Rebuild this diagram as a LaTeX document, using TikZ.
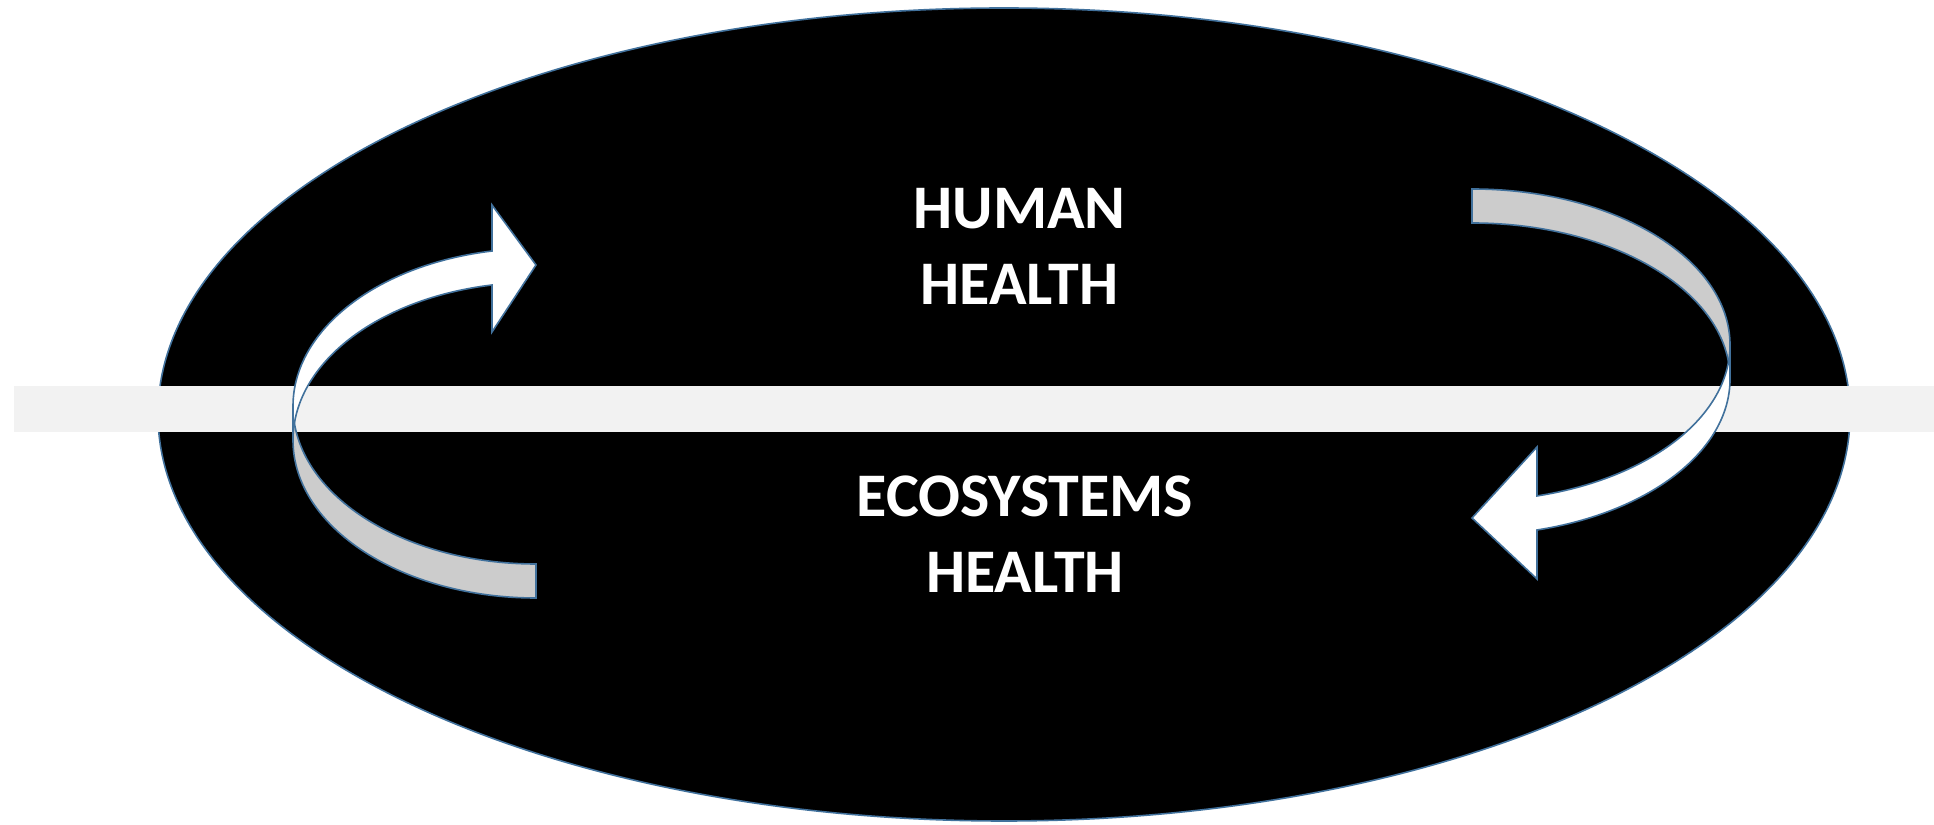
\documentclass[tikz,border=0pt]{standalone}
\usepackage{fontspec}
\setmainfont{Carlito}
\definecolor{outl}{HTML}{41719C}
\definecolor{bandc}{HTML}{F2F2F2}
\definecolor{backc}{HTML}{CCCCCC}
\begin{document}
\begin{tikzpicture}[x=1pt,y=1pt,
  outline/.style={draw=outl,line width=1.6pt,line join=miter},
  front/.style={outline,fill=white},
  back/.style={outline,fill=backc},
  label/.style={text=white,font=\bfseries\fontsize{62}{76}\selectfont,align=center,inner sep=0pt}]
\useasboundingbox (0,0) rectangle (1934,824);
% big ellipse
\path[outline,fill=black] (1004,409.5) ellipse [x radius=846pt, y radius=406.5pt];
% band
\fill[bandc] (14,392) rectangle (1934,438);
% left curved arrow: back part
\path[back] (293,417.8) arc[start angle=180,end angle=270,x radius=243pt,y radius=157.8pt]
  -- (536,226) arc[start angle=270,end angle=180,x radius=243pt,y radius=157.8pt] -- cycle;
% left curved arrow: front part
\path[front] (293,417.8) arc[start angle=180,end angle=100.43,x radius=243pt,y radius=157.8pt]
  -- (492,619) -- (536,559) -- (492,492) -- (492,539)
  arc[start angle=100.43,end angle=180,x radius=243pt,y radius=157.8pt] -- cycle;
% right curved arrow: back part
\path[back] (1472,635) arc[start angle=90,end angle=0,x radius=258pt,y radius=156pt]
  -- (1730,445) arc[start angle=0,end angle=90,x radius=258pt,y radius=156pt] -- cycle;
% right curved arrow: front part
\path[front] (1730,479) arc[start angle=0,end angle=-75.41,x radius=258pt,y radius=156pt]
  -- (1537,377) -- (1472,306) -- (1537,245) -- (1537,294)
  arc[start angle=-75.41,end angle=0,x radius=258pt,y radius=156pt] -- cycle;
% labels
\node[label,anchor=base] (human) at (1019.5,519) {HUMAN\\HEALTH};
\node[label,anchor=base] (eco) at (1025,231) {ECOSYSTEMS\\HEALTH};
\end{tikzpicture}
\end{document}
